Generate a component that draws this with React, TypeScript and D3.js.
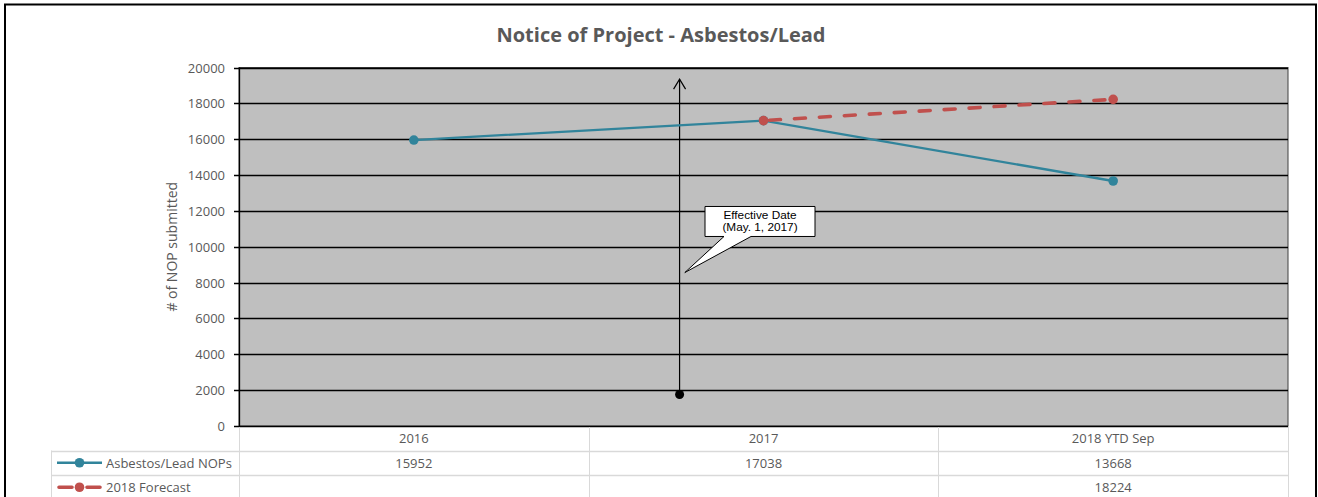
import { useEffect, useRef } from 'react'
import * as d3 from 'd3'

// ── Data ────────────────────────────────────────────────────────────────────
const CATEGORIES = ['2016', '2017', '2018 YTD Sep']
const NOP_VALUES = [15952, 17038, 13668]
const FORECAST_VALUES: (number | null)[] = [null, 17038, 18224]
const FORECAST_TABLE = ['', '', '18224']
const SERIES_NAMES = ['Asbestos/Lead NOPs', '2018 Forecast']
const Y_TICKS = [0, 2000, 4000, 6000, 8000, 10000, 12000, 14000, 16000, 18000, 20000]
const TITLE = 'Notice of Project - Asbestos/Lead'
const Y_TITLE = '# of NOP submitted'

// annotation, in category-index / value units
const EFFECTIVE_IDX = 0.76
const ARROW_VALUES = [1760, 19350]
const CALLOUT_LINES = ['Effective Date', '(May. 1, 2017)']
const CALLOUT_AT = { idx: 0.99, value: 11410 }
const CALLOUT_TIP = { idx: 0.775, value: 8560 }

const W = 1318
const H = 497
const PLOT = { left: 239, right: 1288, top: 67.5, bottom: 426 }
const ROW_H = 24.5
const FONT = "'Open Sans', 'Liberation Sans', sans-serif"
const TEXT = '#595959'
const TEAL = '#31849B'
const RED = '#C0504D'
const GRID_TABLE = '#d9d9d9'

export default function App() {
  const svgRef = useRef<SVGSVGElement>(null)

  useEffect(() => {
    if (!svgRef.current) return
    const svg = d3.select(svgRef.current)
    svg.selectAll('*').remove()

    const x = d3.scaleLinear().domain([-0.5, CATEGORIES.length - 0.5]).range([PLOT.left, PLOT.right])
    const y = d3.scaleLinear().domain([0, 20000]).range([PLOT.bottom, PLOT.top])

    // ── Outer frame ───────────────────────────────────────────────────────────
    svg.append('path')
      .attr('d', `M5,${H + 5} V4.5 H1316 V${H + 5}`)
      .attr('fill', 'none').attr('stroke', '#000').attr('stroke-width', 2)

    // ── Title ─────────────────────────────────────────────────────────────────
    svg.append('text')
      .attr('x', 661).attr('y', 42)
      .attr('text-anchor', 'middle')
      .attr('font-family', FONT).attr('font-weight', 700).attr('font-size', 20)
      .attr('fill', TEXT)
      .text(TITLE)

    // ── Plot area ─────────────────────────────────────────────────────────────
    svg.append('rect')
      .attr('x', PLOT.left).attr('y', PLOT.top)
      .attr('width', PLOT.right - PLOT.left).attr('height', PLOT.bottom - PLOT.top)
      .attr('fill', '#BFBFBF').attr('stroke', '#404040').attr('stroke-width', 1)

    const grid = svg.append('g')
    grid.selectAll('line').data(Y_TICKS).join('line')
      .attr('x1', PLOT.left - 5).attr('x2', PLOT.right)
      .attr('y1', (d) => Math.round(y(d)) + 0.5).attr('y2', (d) => Math.round(y(d)) + 0.5)
      .attr('stroke', '#000').attr('stroke-width', 1.3)

    svg.append('line')
      .attr('x1', PLOT.left + 0.5).attr('x2', PLOT.left + 0.5)
      .attr('y1', PLOT.top).attr('y2', PLOT.bottom)
      .attr('stroke', '#000').attr('stroke-width', 1.3)

    svg.append('g').selectAll('text').data(Y_TICKS).join('text')
      .attr('x', 225).attr('y', (d) => y(d))
      .attr('text-anchor', 'end').attr('dominant-baseline', 'central')
      .attr('font-family', FONT).attr('font-size', 13).attr('fill', TEXT)
      .text((d) => String(d))

    svg.append('text')
      .attr('transform', `translate(177,${(PLOT.top + PLOT.bottom) / 2}) rotate(-90)`)
      .attr('text-anchor', 'middle')
      .attr('font-family', FONT).attr('font-size', 14).attr('fill', TEXT)
      .text(Y_TITLE)

    // ── Annotation arrow ──────────────────────────────────────────────────────
    const ax = x(EFFECTIVE_IDX)
    const ay0 = y(ARROW_VALUES[0])
    const ay1 = y(ARROW_VALUES[1])
    svg.append('line')
      .attr('x1', ax).attr('x2', ax).attr('y1', ay0).attr('y2', ay1)
      .attr('stroke', '#000').attr('stroke-width', 1.2)
    svg.append('path')
      .attr('d', `M${ax - 6},${ay1 + 10} L${ax},${ay1} L${ax + 6},${ay1 + 10}`)
      .attr('fill', 'none').attr('stroke', '#000').attr('stroke-width', 1.2)
    svg.append('circle')
      .attr('cx', ax).attr('cy', ay0).attr('r', 4.5).attr('fill', '#000')

    // ── Series ────────────────────────────────────────────────────────────────
    const nopLine = d3.line<number>().x((_, i) => x(i)).y((d) => y(d))
    svg.append('path')
      .attr('d', nopLine(NOP_VALUES))
      .attr('fill', 'none').attr('stroke', TEAL).attr('stroke-width', 2.3)
    svg.append('g').selectAll('circle').data(NOP_VALUES).join('circle')
      .attr('cx', (_, i) => x(i)).attr('cy', (d) => y(d)).attr('r', 4.8).attr('fill', TEAL)

    const fcPts = FORECAST_VALUES
      .map((v, i) => ({ v, i }))
      .filter((d): d is { v: number; i: number } => d.v !== null)
    const fcLine = d3.line<{ v: number; i: number }>().x((d) => x(d.i)).y((d) => y(d.v))
    svg.append('path')
      .attr('d', fcLine(fcPts))
      .attr('fill', 'none').attr('stroke', RED).attr('stroke-width', 3.6)
      .attr('stroke-dasharray', '11 14').attr('stroke-linecap', 'round')
      .attr('stroke-dashoffset', -6)
    svg.append('g').selectAll('circle').data(fcPts).join('circle')
      .attr('cx', (d) => x(d.i)).attr('cy', (d) => y(d.v)).attr('r', 4.8).attr('fill', RED)

    // ── Callout ───────────────────────────────────────────────────────────────
    const cx = x(CALLOUT_AT.idx)
    const cy = y(CALLOUT_AT.value)
    const bw = 110
    const bh = 30
    const bl = cx - bw / 2
    const bt = cy - bh / 2
    const tx = x(CALLOUT_TIP.idx)
    const ty = y(CALLOUT_TIP.value)
    svg.append('path')
      .attr('d', `M${bl},${bt} H${bl + bw} V${bt + bh} H${bl + 46} L${tx},${ty} L${bl + 19},${bt + bh} H${bl} Z`)
      .attr('fill', '#fff').attr('stroke', '#000').attr('stroke-width', 1)
    svg.append('g').selectAll('text').data(CALLOUT_LINES).join('text')
      .attr('x', cx).attr('y', (_, i) => bt + 13 + i * 12)
      .attr('text-anchor', 'middle')
      .attr('font-family', "'Liberation Sans', Arial, sans-serif").attr('font-size', 11.8).attr('fill', '#000')
      .text((d) => d)

    // ── Data table ────────────────────────────────────────────────────────────
    const table = svg.append('g')
    const colEdges = d3.range(CATEGORIES.length + 1).map((i) => x(i - 0.5))
    table.selectAll('line.v').data(colEdges).join('line')
      .attr('class', 'v')
      .attr('x1', (d) => Math.round(d) + 0.5).attr('x2', (d) => Math.round(d) + 0.5)
      .attr('y1', PLOT.bottom + 1).attr('y2', H + 5)
      .attr('stroke', GRID_TABLE)
    const legendLeft = 51
    table.append('line')
      .attr('x1', legendLeft + 0.5).attr('x2', legendLeft + 0.5)
      .attr('y1', PLOT.bottom + ROW_H).attr('y2', H + 5).attr('stroke', GRID_TABLE)
    table.selectAll('line.h').data([1, 2]).join('line')
      .attr('class', 'h')
      .attr('x1', legendLeft).attr('x2', PLOT.right)
      .attr('y1', (d) => Math.round(PLOT.bottom + d * ROW_H) + 0.5)
      .attr('y2', (d) => Math.round(PLOT.bottom + d * ROW_H) + 0.5)
      .attr('stroke', GRID_TABLE).attr('stroke-width', 1.5)

    const cellText = (sel: d3.Selection<SVGTextElement, any, any, any>) =>
      sel.attr('font-family', FONT).attr('font-size', 13).attr('fill', TEXT)
        .attr('dominant-baseline', 'central')

    table.selectAll('text.cat').data(CATEGORIES).join('text')
      .attr('class', 'cat')
      .attr('x', (_, i) => x(i)).attr('y', PLOT.bottom + ROW_H / 2)
      .attr('text-anchor', 'middle')
      .call(cellText)
      .text((d) => d)

    const rows = [NOP_VALUES.map(String), FORECAST_TABLE]
    rows.forEach((vals, r) => {
      const ry = PLOT.bottom + ROW_H * (r + 1.5)
      table.append('g').selectAll('text').data(vals).join('text')
        .attr('x', (_, i) => x(i)).attr('y', ry)
        .attr('text-anchor', 'middle')
        .call(cellText)
        .text((d) => d)

      const color = r === 0 ? TEAL : RED
      table.append('line')
        .attr('x1', r === 0 ? 57 : 59).attr('x2', r === 0 ? 102 : 100).attr('y1', ry).attr('y2', ry)
        .attr('stroke', color).attr('stroke-width', r === 0 ? 2.3 : 3.6)
        .attr('stroke-linecap', r === 0 ? 'butt' : 'round')
        .attr('stroke-dasharray', r === 0 ? null : '13 15')
      table.append('circle')
        .attr('cx', 79.5).attr('cy', ry).attr('r', 4.8).attr('fill', color)
      table.append('text')
        .attr('x', 106).attr('y', ry)
        .call(cellText)
        .text(SERIES_NAMES[r])
    })
  }, [])

  return (
    <svg
      ref={svgRef}
      width={W}
      height={H}
      style={{ position: 'absolute', left: 0, top: 0, display: 'block', background: '#fff' }}
    />
  )
}
